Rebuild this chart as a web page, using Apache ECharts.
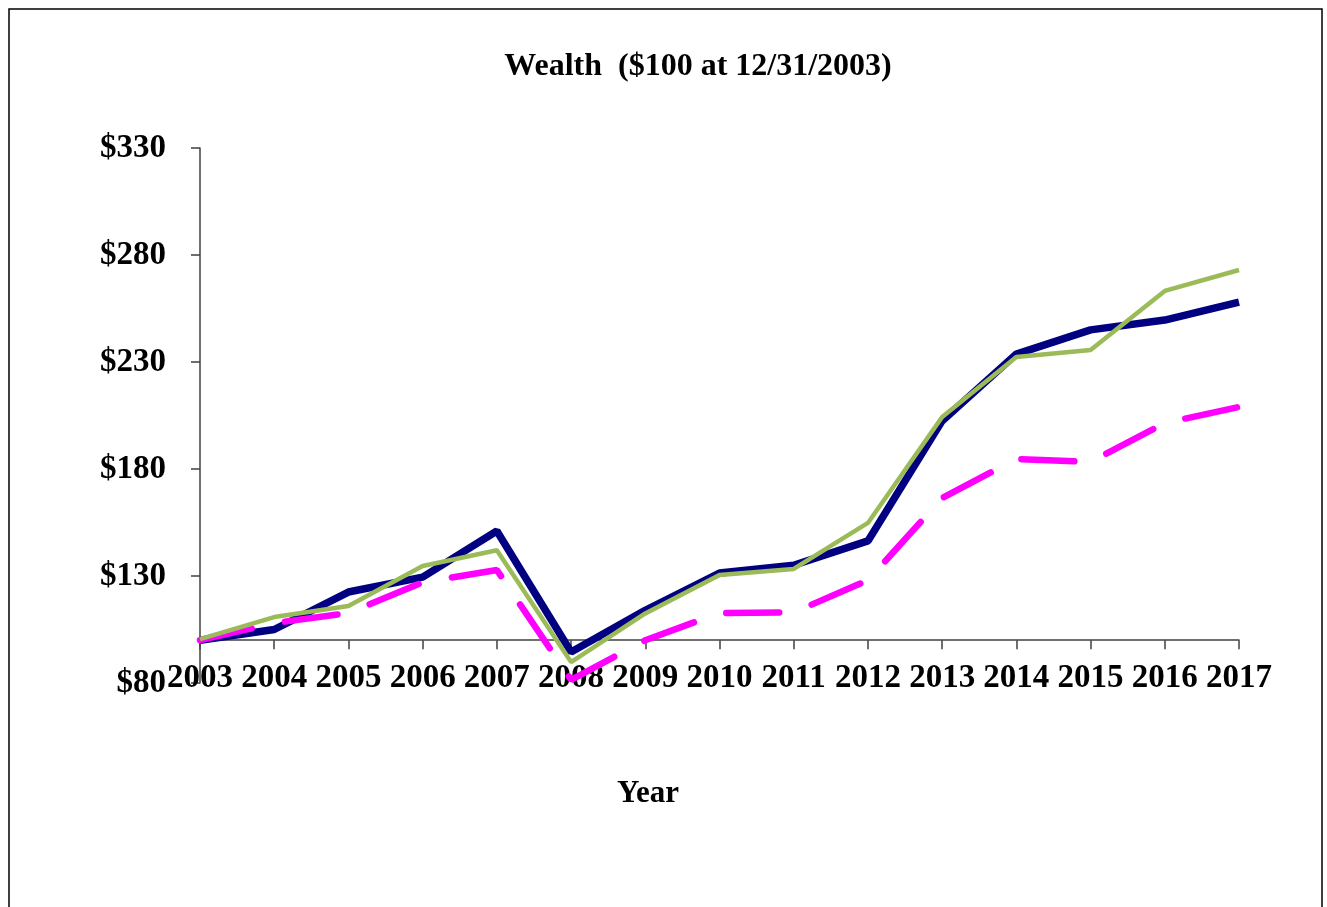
<!DOCTYPE html>
<html>
<head>
<meta charset="utf-8">
<script src="https://cdn.jsdelivr.net/npm/echarts@6/dist/echarts.min.js"></script>
<style>
  html, body { margin: 0; padding: 0; background: #fff; }
  #chart { width: 1327px; height: 907px; }
</style>
</head>
<body>
<div id="chart"></div>
<script>
const chart = echarts.init(document.getElementById('chart'))

// Data
const years = ['2003', '2004', '2005', '2006', '2007', '2008', '2009', '2010',
  '2011', '2012', '2013', '2014', '2015', '2016', '2017']
const navyValues = [100, 105, 122.5, 129.5, 151, 94.5, 114, 131.4, 135, 146.4,
  202.5, 233.7, 245, 249.6, 258]
const magentaValues = [100, 108, 112.7, 127, 132.8, 81.5, 100, 112.7, 113, 128,
  166.4, 184.7, 183.3, 201.5, 209]
const greenValues = [100.5, 110.8, 116, 134.7, 142, 89.8, 112.5, 130.5, 133.3,
  154.8, 204.3, 232.3, 235.6, 263.2, 273]
const yTicks = [80, 130, 180, 230, 280, 330]

const serif = '"Liberation Serif", "Times New Roman", serif'
const axisColor = '#404040'

const option = {
  animation: false,
  backgroundColor: '#fff',
  title: [
    {
      text: 'Wealth  ($100 at 12/31/2003)',
      left: 693,
      top: 46,
      textAlign: 'center',
      textStyle: { fontFamily: serif, fontWeight: 'bold', fontSize: 32, color: '#000' },
    },
    {
      text: 'Year',
      left: 643,
      top: 773,
      textAlign: 'center',
      textStyle: { fontFamily: serif, fontWeight: 'bold', fontSize: 31, color: '#000' },
    },
  ],
  graphic: [
    {
      type: 'rect',
      shape: { x: 9, y: 9, width: 1313, height: 920 },
      style: { fill: 'none', stroke: '#000', lineWidth: 1.5 },
      silent: true,
    },
  ],
  grid: {
    left: 200,
    right: 88,
    top: 148,
    bottom: 224,
    containLabel: false,
  },
  xAxis: {
    type: 'category',
    data: years,
    boundaryGap: false,
    offset: -42.8, // axis crosses at $100
    axisLine: { show: true, lineStyle: { color: axisColor, width: 1.5 } },
    axisTick: { show: true, inside: false, length: 9, alignWithLabel: true,
      lineStyle: { color: axisColor, width: 1.5 } },
    axisLabel: {
      interval: 0,
      margin: 22,
      fontFamily: serif,
      fontWeight: 'bold',
      fontSize: 33,
      color: '#000',
    },
    splitLine: { show: false },
  },
  yAxis: {
    type: 'value',
    min: 80,
    max: 330,
    axisLine: { show: true, lineStyle: { color: axisColor, width: 1.5 } },
    axisTick: { show: true, length: 9, customValues: yTicks,
      lineStyle: { color: axisColor, width: 1.5 } },
    axisLabel: {
      customValues: yTicks,
      margin: 34,
      formatter: (v) => '$' + v,
      fontFamily: serif,
      fontWeight: 'bold',
      fontSize: 33,
      color: '#000',
    },
    splitLine: { show: false },
  },
  series: [
    {
      name: 'Navy',
      type: 'line',
      data: navyValues,
      showSymbol: false,
      lineStyle: { color: '#000080', width: 7.5 },
      z: 2,
    },
    {
      name: 'Magenta',
      type: 'line',
      data: magentaValues,
      showSymbol: false,
      lineStyle: { color: '#FF00FF', width: 6.5, type: [53, 34], cap: 'round' },
      z: 3,
    },
    {
      name: 'Green',
      type: 'line',
      data: greenValues,
      showSymbol: false,
      lineStyle: { color: '#9BBB59', width: 4.5 },
      z: 4,
    },
  ],
}

chart.setOption(option)
</script>
</body>
</html>
